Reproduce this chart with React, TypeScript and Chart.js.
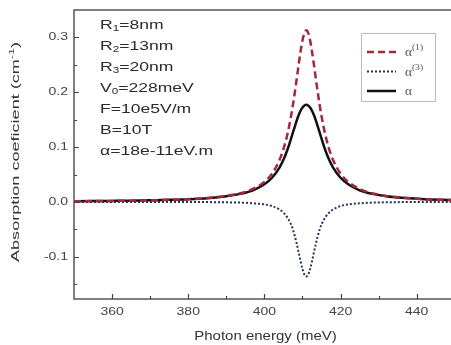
import React, { useEffect, useRef } from 'react';
import { Chart, registerables } from 'chart.js';

Chart.register(...registerables);

// Photon energy (meV)
const energy = [
  350, 355, 360, 365, 370, 375, 380, 385, 390, 394, 397, 400, 402, 404, 405, 406, 407, 407.5, 408, 408.5,
  409, 409.5, 410, 410.5, 411, 411.5, 412, 412.5, 413, 413.5, 414, 414.5, 415, 416, 417, 418, 420, 422,
  425, 428, 432, 436, 441, 446, 450,
];
// α(1) linear absorption
const alpha1 = [
  0.0013, 0.0016, 0.0019, 0.0023, 0.003, 0.0038, 0.0051, 0.0072, 0.011, 0.0164, 0.0236, 0.0366, 0.0516,
  0.0771, 0.0963, 0.1222, 0.1565, 0.1773, 0.2003, 0.2251, 0.2504, 0.2744, 0.2946, 0.3082, 0.313, 0.3082,
  0.2946, 0.2744, 0.2504, 0.2251, 0.2003, 0.1773, 0.1565, 0.1222, 0.0963, 0.0771, 0.0516, 0.0366, 0.0236,
  0.0164, 0.011, 0.0078, 0.0055, 0.004, 0.0033,
];
// α(3) third-order absorption
const alpha3 = [
  0, 0, 0, 0, 0, 0, -0.0001, -0.0003, -0.0007, -0.0013, -0.0025, -0.0045, -0.0075, -0.014, -0.0195, -0.028,
  -0.041, -0.0505, -0.0625, -0.0765, -0.092, -0.1081, -0.1224, -0.1324, -0.136, -0.1324, -0.1224, -0.1081,
  -0.092, -0.0765, -0.0625, -0.0505, -0.041, -0.028, -0.0195, -0.014, -0.0075, -0.0045, -0.0025, -0.0013,
  -0.0007, -0.0003, -0.0001, 0, 0,
];
// α total
const alphaTotal = [
  0.0013, 0.0016, 0.0019, 0.0023, 0.003, 0.0038, 0.005, 0.0069, 0.0103, 0.0151, 0.0211, 0.0321, 0.0441,
  0.0631, 0.0768, 0.0942, 0.1155, 0.1268, 0.1378, 0.1486, 0.1584, 0.1663, 0.1722, 0.1758, 0.177, 0.1758,
  0.1722, 0.1663, 0.1584, 0.1486, 0.1378, 0.1268, 0.1155, 0.0942, 0.0768, 0.0631, 0.0441, 0.0321, 0.0211,
  0.0151, 0.0103, 0.0075, 0.0054, 0.004, 0.0033,
];

const xMajorTicks = [360, 380, 400, 420, 440];
const xMinorTicks = [370, 390, 410, 430];
const yMajorTicks = [-0.1, 0.0, 0.1, 0.2, 0.3];
const yMinorTicks = [-0.15, -0.05, 0.05, 0.15, 0.25];

const paramLines: [string, string, string][] = [
  ['R', '1', '=8nm'],
  ['R', '2', '=13nm'],
  ['R', '3', '=20nm'],
  ['V', '0', '=228meV'],
  ['F=10e5V/m', '', ''],
  ['B=10T', '', ''],
  ['α=18e-11eV.m', '', ''],
];

const legendItems = [
  { base: 'α', sup: '(1)', color: '#a3283c', dash: [7, 4], width: 2.5 },
  { base: 'α', sup: '(3)', color: '#27305a', dash: [2, 2], width: 2 },
  { base: 'α', sup: '', color: '#111111', dash: [], width: 2.5 },
];

const SANS = '"Liberation Sans", Arial, sans-serif';
const SERIF = '"Liberation Serif", "Times New Roman", serif';

function stretchText(
  ctx: CanvasRenderingContext2D,
  text: string,
  x: number,
  y: number,
  size: number,
  align: 'left' | 'right' | 'center',
  sx: number,
  color: string,
  family = SANS
): number {
  ctx.save();
  ctx.font = `${size}px ${family}`;
  ctx.fillStyle = color;
  ctx.textBaseline = 'middle';
  ctx.textAlign = 'left';
  const w = ctx.measureText(text).width * sx;
  const left = align === 'left' ? x : align === 'right' ? x - w : x - w / 2;
  ctx.translate(left, y);
  ctx.scale(sx, 1);
  ctx.fillText(text, 0, 0);
  ctx.restore();
  return w;
}

const decorPlugin = {
  id: 'decor',
  afterDatasetsDraw(chart: any) {
    const ctx: CanvasRenderingContext2D = chart.ctx;
    const { left, right, top, bottom } = chart.chartArea;
    const xs = chart.scales.x;
    const ys = chart.scales.y;

    ctx.save();
    // frame
    ctx.strokeStyle = '#555';
    ctx.lineWidth = 1.5;
    ctx.beginPath();
    ctx.moveTo(right + 2, top);
    ctx.lineTo(left, top);
    ctx.lineTo(left, bottom);
    ctx.lineTo(right + 2, bottom);
    ctx.stroke();

    // ticks
    ctx.lineWidth = 1.2;
    ctx.strokeStyle = '#444';
    ctx.beginPath();
    xMajorTicks.forEach((v) => {
      const px = Math.round(xs.getPixelForValue(v)) + 0.5;
      ctx.moveTo(px, bottom);
      ctx.lineTo(px, bottom - 5);
    });
    xMinorTicks.forEach((v) => {
      const px = Math.round(xs.getPixelForValue(v)) + 0.5;
      ctx.moveTo(px, bottom);
      ctx.lineTo(px, bottom - 3);
    });
    yMajorTicks.forEach((v) => {
      const py = Math.round(ys.getPixelForValue(v)) + 0.5;
      ctx.moveTo(left, py);
      ctx.lineTo(left + 5, py);
    });
    yMinorTicks.forEach((v) => {
      const py = Math.round(ys.getPixelForValue(v)) + 0.5;
      ctx.moveTo(left, py);
      ctx.lineTo(left + 3, py);
    });
    ctx.stroke();
    ctx.restore();

    // tick labels
    xMajorTicks.forEach((v) => {
      stretchText(ctx, String(v), xs.getPixelForValue(v), bottom + 13, 10, 'center', 1.4, '#444');
    });
    yMajorTicks.forEach((v) => {
      stretchText(ctx, v.toFixed(1), left - 6, ys.getPixelForValue(v), 10, 'right', 1.4, '#444');
    });

    // axis titles
    stretchText(ctx, 'Photon energy (meV)', (left + right) / 2 + 3, bottom + 38, 12, 'center', 1.25, '#333');

    // y title rotated
    ctx.save();
    ctx.translate(16, 152);
    ctx.rotate(-Math.PI / 2);
    ctx.font = `11.5px ${SANS}`;
    const mainTxt = 'Absorption coeficient (cm';
    const supTxt = '-1';
    const endTxt = ')';
    const wMain = ctx.measureText(mainTxt).width;
    ctx.font = `8px ${SANS}`;
    const wSup = ctx.measureText(supTxt).width;
    ctx.font = `11.5px ${SANS}`;
    const wEnd = ctx.measureText(endTxt).width;
    const natural = wMain + wSup + wEnd;
    const sxT = 220 / natural;
    ctx.scale(sxT, 1);
    ctx.fillStyle = '#333';
    ctx.textBaseline = 'middle';
    ctx.textAlign = 'left';
    let cx = -natural / 2;
    ctx.fillText(mainTxt, cx, 0);
    cx += wMain;
    ctx.font = `8px ${SANS}`;
    ctx.fillText(supTxt, cx, -4);
    cx += wSup;
    ctx.font = `11.5px ${SANS}`;
    ctx.fillText(endTxt, cx, 0);
    ctx.restore();

    // parameter annotations
    paramLines.forEach((ln, i) => {
      const y = 25 + i * 21;
      let x = 100;
      x += stretchText(ctx, ln[0], x, y, 13, 'left', 1.35, '#2a2a2a');
      if (ln[1]) {
        x += stretchText(ctx, ln[1], x, y + 4, 9, 'left', 1.3, '#2a2a2a');
      }
      if (ln[2]) {
        stretchText(ctx, ln[2], x, y, 13, 'left', 1.35, '#2a2a2a');
      }
    });

    // legend box
    ctx.save();
    ctx.strokeStyle = '#bbb';
    ctx.lineWidth = 1;
    ctx.strokeRect(361.5, 33.5, 74, 68);
    legendItems.forEach((it, i) => {
      const y = 52 + i * 19.5;
      ctx.strokeStyle = it.color;
      ctx.lineWidth = it.width;
      ctx.setLineDash(it.dash);
      ctx.beginPath();
      ctx.moveTo(367, y);
      ctx.lineTo(396, y);
      ctx.stroke();
      ctx.setLineDash([]);
      const w = stretchText(ctx, it.base, 405, y + 1, 12, 'left', 1.1, '#555', SERIF);
      if (it.sup) stretchText(ctx, it.sup, 405 + w, y - 4, 8, 'left', 1.2, '#555', SERIF);
    });
    ctx.restore();
  },
};

export default function App() {
  const ref = useRef<HTMLCanvasElement | null>(null);

  useEffect(() => {
    document.body.style.margin = '0';
    document.body.style.overflow = 'hidden';
    const canvas = ref.current;
    if (!canvas) return;
    const mk = (arr: number[]) => energy.map((x, i) => ({ x, y: arr[i] }));
    const chart = new Chart(canvas, {
      type: 'line',
      data: {
        datasets: [
          {
            label: 'α(1)',
            data: mk(alpha1),
            borderColor: '#a3283c',
            borderWidth: 2.5,
            borderDash: [7, 4],
            pointRadius: 0,
            cubicInterpolationMode: 'monotone',
            fill: false,
          },
          {
            label: 'α(3)',
            data: mk(alpha3),
            borderColor: '#27305a',
            borderWidth: 2,
            borderDash: [2, 2],
            pointRadius: 0,
            cubicInterpolationMode: 'monotone',
            fill: false,
          },
          {
            label: 'α',
            data: mk(alphaTotal),
            borderColor: '#111111',
            borderWidth: 2.5,
            pointRadius: 0,
            cubicInterpolationMode: 'monotone',
            fill: false,
          },
        ],
      },
      options: {
        responsive: false,
        animation: false,
        devicePixelRatio: 1,
        layout: { padding: { left: 74, top: 10, right: 0, bottom: 46 } },
        plugins: { legend: { display: false }, tooltip: { enabled: false } },
        scales: {
          x: { type: 'linear', min: 350, max: 449, display: false },
          y: { type: 'linear', min: -0.177, max: 0.35, display: false },
        },
      },
      plugins: [decorPlugin],
    });
    return () => chart.destroy();
  }, []);

  return <canvas ref={ref} width={451} height={345} style={{ display: 'block' }} />;
}
